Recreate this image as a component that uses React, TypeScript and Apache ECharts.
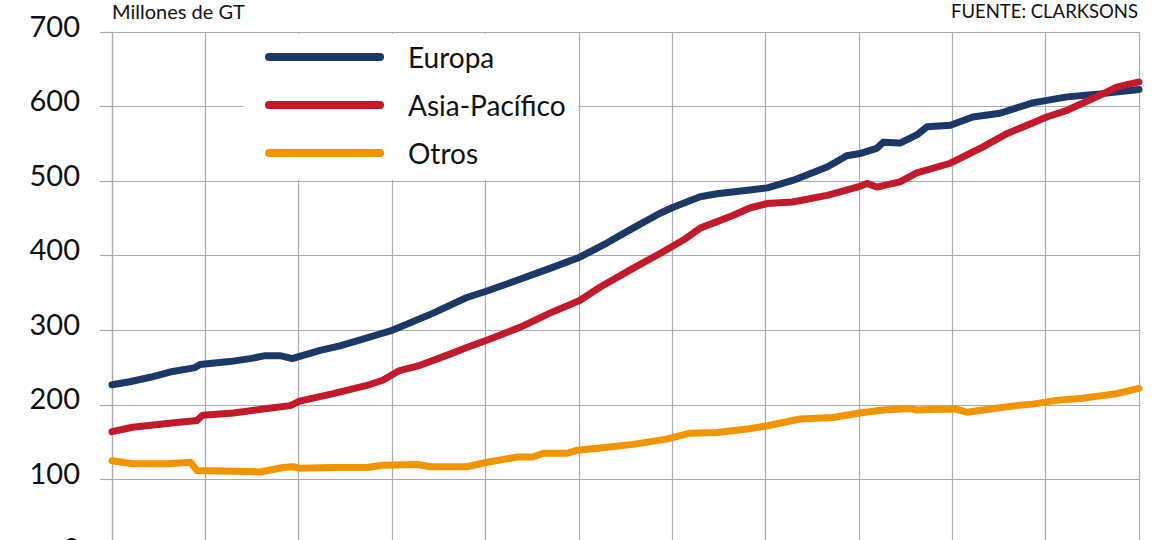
import React, { useEffect, useRef } from "react";
import * as echarts from "echarts";

const SERIES_NAMES = ["Europa", "Asia-Pacífico", "Otros"];
const COLORS = ["#1b3866", "#c21a2b", "#f29400"];
const Y_TICKS = [0, 100, 200, 300, 400, 500, 600, 700];
const YEAR_START = 2010;
const YEAR_END = 2021;

// [year, millones de GT]
const europa: [number, number][] = [
  [2010.0, 227], [2010.19, 231], [2010.41, 237], [2010.62, 244], [2010.89, 250], [2010.94, 254],
  [2011.26, 258], [2011.48, 262], [2011.64, 266], [2011.8, 266], [2011.93, 262], [2012.01, 265],
  [2012.23, 273], [2012.44, 279], [2012.66, 287], [2012.87, 295], [2013.0, 300], [2013.08, 304],
  [2013.44, 323], [2013.8, 344], [2014.0, 352], [2014.34, 367], [2014.69, 383], [2015.01, 398],
  [2015.3, 417], [2015.58, 437], [2015.87, 457], [2016.01, 465], [2016.3, 479], [2016.48, 483],
  [2016.83, 488], [2017.02, 491], [2017.29, 501], [2017.66, 519], [2017.87, 534], [2018.01, 537],
  [2018.19, 544], [2018.26, 552], [2018.44, 551], [2018.62, 562], [2018.73, 573], [2018.98, 575],
  [2019.22, 586], [2019.51, 591], [2019.86, 605], [2020.23, 613], [2020.58, 617], [2021.0, 623],
];

const asiaPacifico: [number, number][] = [
  [2010.0, 164], [2010.22, 170], [2010.59, 175], [2010.91, 179], [2010.97, 186], [2011.3, 189],
  [2011.66, 195], [2011.91, 199], [2012.01, 205], [2012.37, 215], [2012.73, 226], [2012.9, 233],
  [2013.01, 241], [2013.08, 246], [2013.3, 253], [2013.62, 268], [2013.8, 277], [2014.02, 287],
  [2014.37, 304], [2014.69, 323], [2015.01, 340], [2015.23, 358], [2015.58, 383], [2015.87, 403],
  [2016.12, 421], [2016.3, 437], [2016.65, 454], [2016.83, 464], [2017.02, 470], [2017.29, 472],
  [2017.66, 481], [2018.01, 493], [2018.09, 497], [2018.19, 492], [2018.44, 499], [2018.62, 511],
  [2018.98, 524], [2019.33, 546], [2019.59, 564], [2019.86, 578], [2020.01, 586], [2020.23, 595],
  [2020.58, 615], [2020.76, 626], [2021.0, 633],
];

const otros: [number, number][] = [
  [2010.0, 125], [2010.22, 121], [2010.59, 121], [2010.84, 123], [2010.91, 112], [2011.3, 111],
  [2011.59, 110], [2011.83, 116], [2011.94, 117], [2012.01, 115], [2012.37, 116], [2012.73, 116],
  [2012.9, 119], [2013.27, 120], [2013.41, 117], [2013.8, 117], [2014.02, 123], [2014.34, 130],
  [2014.51, 130], [2014.62, 135], [2014.87, 135], [2014.98, 139], [2015.23, 142], [2015.58, 147],
  [2015.94, 154], [2016.19, 162], [2016.48, 163], [2016.83, 168], [2017.02, 172], [2017.37, 181],
  [2017.72, 183], [2018.01, 189], [2018.26, 193], [2018.55, 195], [2018.62, 193], [2018.87, 194],
  [2019.05, 194], [2019.16, 190], [2019.33, 193], [2019.69, 199], [2019.86, 201], [2020.12, 206],
  [2020.4, 209], [2020.76, 215], [2021.0, 222],
];

const FONT = "Lato, 'Liberation Sans Narrow', sans-serif";
const GRID_COLOR = "#ababab";

export default function App() {
  const ref = useRef<HTMLDivElement>(null);

  useEffect(() => {
    if (!ref.current) return;
    const chart = echarts.init(ref.current, undefined, { renderer: "svg" });
    const datasets = [europa, asiaPacifico, otros];
    chart.setOption({
      animation: false,
      backgroundColor: "#ffffff",
      textStyle: { fontFamily: FONT },
      grid: { left: 112, right: 31, top: 32, bottom: 46, containLabel: false },
      xAxis: {
        type: "value",
        min: YEAR_START,
        max: YEAR_END,
        interval: 1,
        axisLabel: { show: false },
        axisTick: { show: false },
        axisLine: { show: true, lineStyle: { color: GRID_COLOR, width: 1.2 } },
        splitLine: { show: true, lineStyle: { color: GRID_COLOR, width: 1.2 } },
      },
      yAxis: {
        type: "value",
        min: Y_TICKS[0],
        max: Y_TICKS[Y_TICKS.length - 1],
        interval: 100,
        axisLine: { show: true, lineStyle: { color: GRID_COLOR, width: 1.2 } },
        axisTick: { show: true, length: 12, lineStyle: { color: GRID_COLOR, width: 1.2 } },
        splitLine: { show: true, lineStyle: { color: GRID_COLOR, width: 1.2 } },
        axisLabel: {
          margin: 32,
          fontSize: 29,
          color: "#111111",
          fontFamily: FONT,
          verticalAlign: "bottom",
          lineHeight: 14,
        },
      },
      legend: {
        orient: "vertical",
        left: 265,
        top: 33,
        padding: 0,
        itemGap: 0,
        itemWidth: 119,
        itemHeight: 8,
        z: 10,
        icon: "path://M4,0 L115,0 A4,4 0 0 1 115,8 L4,8 A4,4 0 0 1 4,0 Z",
        textStyle: {
          fontSize: 28,
          lineHeight: 48,
          color: "#111111",
          fontFamily: FONT,
          padding: [0, 0, 0, 19],
        },
        data: SERIES_NAMES,
      },
      graphic: [
        {
          type: "rect",
          z: 5,
          shape: { x: 243, y: 34, width: 335, height: 146 },
          style: { fill: "#ffffff" },
        },
        {
          type: "text",
          z: 10,
          left: 112,
          top: 1,
          style: { text: "Millones de GT", fontSize: 20, fontFamily: FONT, fill: "#111111" },
        },
        {
          type: "text",
          z: 10,
          right: 32,
          top: 1,
          style: { text: "FUENTE: CLARKSONS", fontSize: 18.5, fontFamily: FONT, fill: "#111111" },
        },
      ],
      series: datasets.map((d, i) => ({
        name: SERIES_NAMES[i],
        type: "line",
        data: d,
        showSymbol: false,
        symbol: "none",
        smooth: false,
        z: 3,
        itemStyle: { color: COLORS[i] },
        lineStyle: { color: COLORS[i], width: 7, cap: "round", join: "round" },
      })),
    });
    return () => chart.dispose();
  }, []);

  return (
    <div style={{ position: "fixed", left: 0, top: 0, width: 1170, height: 540, overflow: "hidden", background: "#fff" }}>
      <div ref={ref} style={{ width: 1170, height: 600 }} />
    </div>
  );
}
